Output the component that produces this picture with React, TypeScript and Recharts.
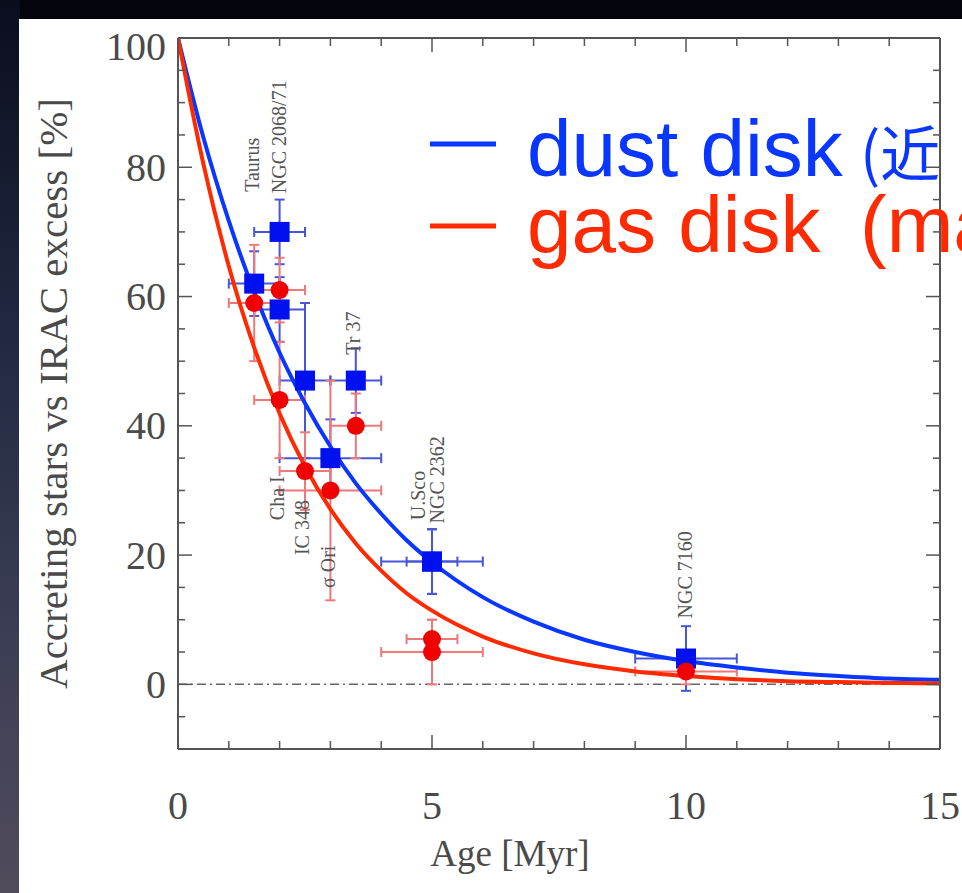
import React from 'react';
import { ComposedChart, Line, Scatter, ErrorBar, XAxis, YAxis, ReferenceLine } from 'recharts';

// fitted curves
const curveAge = [0, 0.5, 1, 1.5, 2, 2.5, 3, 3.5, 4, 4.5, 5, 6, 7, 8, 9, 10, 11, 12, 13, 14, 15];
const dustCurve = [100, 84.6, 71.7, 60.7, 51.3, 43.5, 36.8, 31.1, 26.4, 22.3, 18.9, 13.5, 9.7, 6.9, 5.0, 3.6, 2.6, 1.8, 1.3, 0.9, 0.7];
const gasCurve = [100, 80.5, 64.7, 52.1, 41.9, 33.7, 27.1, 21.8, 17.6, 14.1, 11.4, 7.4, 4.8, 3.1, 2.0, 1.3, 0.8, 0.5, 0.35, 0.23, 0.15];

// IRAC excess (dust) points
const dustAge = [1.5, 2, 2, 2.5, 3, 3.5, 5, 5, 10];
const dustFrac = [62, 70, 58, 47, 35, 47, 19, 19, 4];
const dustAgeErr = [0.5, 0.5, 0.5, 0.5, 1, 0.5, 0.5, 1, 1];
const dustFracErr = [5, 5, 5, 12, 6, 5, 5, 5, 5];

// accreting (gas) points
const gasAge = [1.5, 2, 2, 2.5, 3, 3.5, 5, 5, 10];
const gasFrac = [59, 61, 44, 33, 30, 40, 7, 5, 2];
const gasAgeErr = [0.5, 0.5, 0.5, 0.5, 1, 0.5, 0.5, 1, 1];
const gasFracErr = [9, 5, 9, 6, 17, 5, 3, 5, 2];

// cluster names (rotated), anchored at their lower end
const clusterNames = ['Taurus', 'NGC 2068/71', 'Tr 37', 'Cha I', 'IC 348', 'σ Ori', 'U.Sco', 'NGC 2362', 'NGC 7160'];
const clusterAge = [1.46, 1.98, 3.45, 1.95, 2.45, 2.95, 4.72, 5.1, 9.98];
const clusterFrac = [76.2, 76, 51, 25.4, 20, 14.9, 25.4, 24.9, 10.2];

const xTicks = [0, 1, 2, 3, 4, 5, 6, 7, 8, 9, 10, 11, 12, 13, 14, 15];
const yTicks = [-10, -5, 0, 5, 10, 15, 20, 25, 30, 35, 40, 45, 50, 55, 60, 65, 70, 75, 80, 85, 90, 95, 100];

const dustLine = curveAge.map((x, i) => ({ x, y: dustCurve[i] }));
const gasLine = curveAge.map((x, i) => ({ x, y: gasCurve[i] }));
const dustPts = dustAge.map((x, i) => ({ x, y: dustFrac[i], ex: dustAgeErr[i], ey: dustFracErr[i] }));
const gasPts = gasAge.map((x, i) => ({ x, y: gasFrac[i], ex: gasAgeErr[i], ey: gasFracErr[i] }));
const clusterPts = clusterNames.map((name, i) => ({ x: clusterAge[i], y: clusterFrac[i], name }));

const BLUE = '#0a37ff';
const RED = '#ff2a00';
const FRAME = '#555';
const INK = '#4a4a4a';
const SERIF = '"Liberation Serif", "Times New Roman", serif';

function BottomTick(props: any) {
  const { x, y, payload } = props;
  const major = payload.value % 5 === 0;
  return (
    <g>
      <line x1={x} x2={x} y1={y} y2={y - (major ? 14 : 8)} stroke={FRAME} strokeWidth={1.5} />
      {major && (
        <text x={x} y={y + 56} textAnchor="middle" dominantBaseline="central" fontFamily={SERIF} fontSize={40} fill={INK}>
          {payload.value}
        </text>
      )}
    </g>
  );
}

function TopTick(props: any) {
  const { x, y, payload } = props;
  const major = payload.value % 5 === 0;
  return <line x1={x} x2={x} y1={y} y2={y + (major ? 14 : 8)} stroke={FRAME} strokeWidth={1.5} />;
}

function LeftTick(props: any) {
  const { x, y, payload } = props;
  const major = payload.value % 20 === 0;
  // the top label sits a little below its tick in the original
  const dy = payload.value === 100 ? 8 : 0;
  return (
    <g>
      <line x1={x} x2={x + (major ? 14 : 7)} y1={y} y2={y} stroke={FRAME} strokeWidth={1.5} />
      {major && (
        <text x={x - 12} y={y + dy} textAnchor="end" dominantBaseline="central" fontFamily={SERIF} fontSize={40} fill={INK}>
          {payload.value}
        </text>
      )}
    </g>
  );
}

function RightTick(props: any) {
  const { x, y, payload } = props;
  const major = payload.value % 20 === 0;
  return <line x1={x} x2={x - (major ? 14 : 7)} y1={y} y2={y} stroke={FRAME} strokeWidth={1.5} />;
}

function YTitle(props: any) {
  const vb = props.viewBox || { x: 0, y: 38, width: 178, height: 711 };
  const cx = vb.x + 53;
  const cy = vb.y + vb.height / 2;
  return (
    <text x={cx} y={cy} transform={`rotate(-90 ${cx} ${cy})`} textAnchor="middle" dominantBaseline="central"
      fontFamily={SERIF} fontSize={41} fill={INK}>
      Accreting stars vs IRAC excess [%]
    </text>
  );
}

function XTitle(props: any) {
  const vb = props.viewBox || { x: 178, y: 749, width: 762, height: 144 };
  return (
    <text x={vb.x + 332} y={vb.y + 117} textAnchor="middle" fontFamily={SERIF} fontSize={37} fill={INK}>
      Age [Myr]
    </text>
  );
}

const squareShape = (p: any) => <rect x={p.cx - 10} y={p.cy - 10} width={20} height={20} fill="#0010ee" />;
const circleShape = (p: any) => <circle cx={p.cx} cy={p.cy} r={9} fill="#f00000" />;
const nameShape = (p: any) => (
  <text x={p.cx} y={p.cy} transform={`rotate(-90 ${p.cx} ${p.cy})`} dominantBaseline="central"
    fontFamily={SERIF} fontSize={20} fill="#555">
    {p.payload.name}
  </text>
);

export default function App() {
  return (
    <div style={{ position: 'absolute', left: 0, top: 0, width: 962, height: 893, overflow: 'hidden', background: '#04050c' }}>
      <div style={{ position: 'absolute', left: 0, top: 0, width: 20, height: 893,
        background: 'linear-gradient(#0a0d1c, #1f2740 35%, #3a3d55 70%, #514b5b)' }} />
      <div style={{ position: 'absolute', left: 19, top: 19, width: 943, height: 874, background: '#fff' }} />
      <div style={{ position: 'absolute', left: 0, top: 0 }}>
        <ComposedChart width={962} height={893} margin={{ top: 37, right: 21, bottom: 0, left: 0 }}>
          <XAxis xAxisId={0} dataKey="x" type="number" domain={[0, 15]} ticks={xTicks} interval={0}
            allowDataOverflow height={144} tickSize={0} tickMargin={0} tick={<BottomTick />}
            axisLine={{ stroke: FRAME, strokeWidth: 2 }} label={<XTitle />} />
          <XAxis xAxisId="top" orientation="top" dataKey="x" type="number" domain={[0, 15]} ticks={xTicks}
            interval={0} allowDataOverflow height={1} tickSize={0} tickMargin={0} tick={<TopTick />}
            axisLine={{ stroke: FRAME, strokeWidth: 2 }} />
          <YAxis yAxisId={0} dataKey="y" type="number" domain={[-10, 100]} ticks={yTicks} interval={0}
            allowDataOverflow width={178} tickSize={0} tickMargin={0} tick={<LeftTick />}
            axisLine={{ stroke: FRAME, strokeWidth: 2 }} label={<YTitle />} />
          <YAxis yAxisId="right" orientation="right" dataKey="y" type="number" domain={[-10, 100]} ticks={yTicks}
            interval={0} allowDataOverflow width={1} tickSize={0} tickMargin={0} tick={<RightTick />}
            axisLine={{ stroke: FRAME, strokeWidth: 2 }} />

          <ReferenceLine y={0} stroke="#666" strokeWidth={1.5} strokeDasharray="9 4 2 4" />

          {/* names use the top/right axes (same scales) so that those frame sides are drawn */}
          <Scatter data={clusterPts} xAxisId="top" yAxisId="right" shape={nameShape}
            isAnimationActive={false} legendType="none" />

          <Scatter data={dustPts} shape={squareShape} isAnimationActive={false}>
            <ErrorBar dataKey="ex" direction="x" width={5} stroke="#4656d6" strokeWidth={2} isAnimationActive={false} />
            <ErrorBar dataKey="ey" direction="y" width={5} stroke="#4656d6" strokeWidth={2} isAnimationActive={false} />
          </Scatter>
          <Scatter data={gasPts} shape={circleShape} isAnimationActive={false}>
            <ErrorBar dataKey="ex" direction="x" width={5} stroke="#f07878" strokeWidth={2} isAnimationActive={false} />
            <ErrorBar dataKey="ey" direction="y" width={5} stroke="#f07878" strokeWidth={2} isAnimationActive={false} />
          </Scatter>

          <Line data={dustLine} dataKey="y" type="monotone" stroke={BLUE} strokeWidth={4} dot={false}
            activeDot={false} isAnimationActive={false} />
          <Line data={gasLine} dataKey="y" type="monotone" stroke={RED} strokeWidth={4} dot={false}
            activeDot={false} isAnimationActive={false} />
        </ComposedChart>
      </div>
      <svg width={962} height={893} style={{ position: 'absolute', left: 0, top: 0, pointerEvents: 'none' }}>
        <line x1={430} x2={496} y1={144} y2={144} stroke={BLUE} strokeWidth={5} />
        <text x={527} y={176} fontFamily='"Liberation Sans", Arial, sans-serif' fontSize={80} fill={BLUE}>dust disk</text>
        <text x={860} y={176} fontFamily='"Noto Sans CJK JP", sans-serif' fontSize={60} fill={BLUE}>(近</text>
        <line x1={430} x2={496} y1={226} y2={226} stroke={RED} strokeWidth={5} />
        <text x={527} y={252} fontFamily='"Liberation Sans", Arial, sans-serif' fontSize={80} fill={RED}>gas disk</text>
        <text x={860} y={252} fontFamily='"Liberation Sans", Arial, sans-serif' fontSize={80} fill={RED}>(ma</text>
      </svg>
    </div>
  );
}
